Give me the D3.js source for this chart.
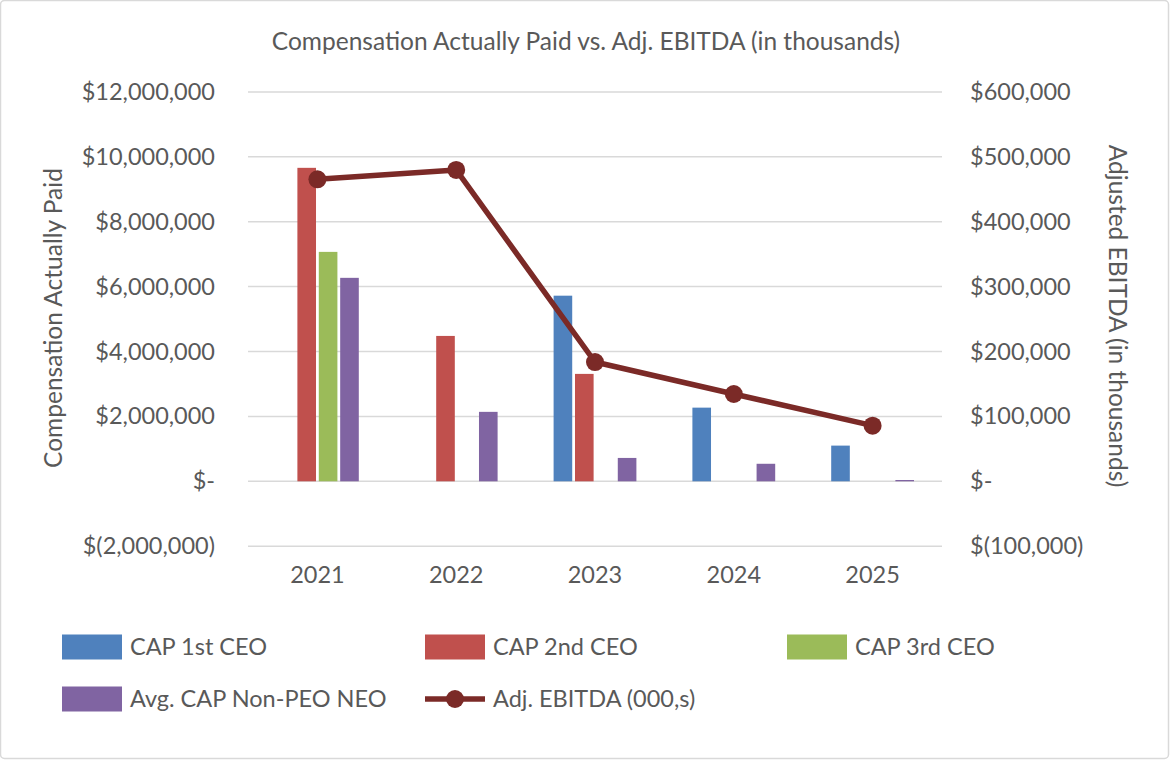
<!DOCTYPE html>
<html><head><meta charset="utf-8">
<script src="https://cdn.jsdelivr.net/npm/d3@7"></script>
<style>
html,body{margin:0;padding:0;background:#fff;}
svg text{font-family:Lato,"Open Sans",sans-serif;fill:#595959;}
</style></head>
<body><svg id="c" width="1170" height="760"></svg>
<script>
const years = ["2021","2022","2023","2024","2025"];
const seriesNames = ["CAP 1st CEO","CAP 2nd CEO","CAP 3rd CEO","Avg. CAP Non-PEO NEO"];
const seriesColors = ["#4F81BD","#C0504D","#9BBB59","#8064A2"];
const cap1st  = [null, null, 5720000, 2270000, 1100000];
const cap2nd  = [9660000, 4480000, 3310000, null, null];
const cap3rd  = [7070000, null, null, null, null];
const capNeo  = [6270000, 2140000, 720000, 540000, 40000];
const ebitda  = [465300, 479700, 183800, 134500, 85700];
const lineName = "Adj. EBITDA (000,s)";
const lineColor = "#7B2A27";
const leftTicks = [-2000000,0,2000000,4000000,6000000,8000000,10000000,12000000];
const rightTicks = [-100000,0,100000,200000,300000,400000,500000,600000];
const title = "Compensation Actually Paid vs. Adj. EBITDA (in thousands)";
const leftTitle = "Compensation Actually Paid";
const rightTitle = "Adjusted EBITDA (in thousands)";

const seriesValues = [cap1st, cap2nd, cap3rd, capNeo];

const svg = d3.select("#c");
svg.append("rect").attr("x",0.5).attr("y",0.5).attr("width",1168).attr("height",758)
  .attr("rx",4).attr("fill","#fff").attr("stroke","#d9d9d9").attr("stroke-width",1.5);

const plot = {left:248, right:942, top:91.9, bottom:546.2};
const x = d3.scaleBand().domain(years).range([plot.left, plot.right]).paddingInner(0).paddingOuter(0);
const groupW = 82.8;
const xs = d3.scaleBand().domain(seriesNames).range([-groupW/2, groupW/2]).paddingInner(0.13).paddingOuter(0);
const yL = d3.scaleLinear().domain([-2000000,12000000]).range([plot.bottom, plot.top]);
const yR = d3.scaleLinear().domain([-100000,600000]).range([plot.bottom, plot.top]);

const fmt = v => {
  if (v === 0) return "$-";
  const s = d3.format(",")(Math.abs(v));
  return v < 0 ? "$(" + s + ")" : "$" + s;
};

const tickFont = "23.5px";

// gridlines
svg.append("g").selectAll("line").data(leftTicks).join("line")
  .attr("x1",plot.left).attr("x2",plot.right)
  .attr("y1",d=>yL(d)).attr("y2",d=>yL(d))
  .attr("stroke","#d9d9d9").attr("stroke-width",1.5);

// left axis
const gl = svg.append("g").attr("transform",`translate(${plot.left},0)`)
  .call(d3.axisLeft(yL).tickValues(leftTicks).tickFormat(fmt).tickSize(0).tickPadding(33));
gl.select(".domain").remove();
gl.selectAll("text").style("font-size",tickFont).attr("fill","#595959");

// right axis
const gr = svg.append("g").attr("transform",`translate(${plot.right},0)`)
  .call(d3.axisRight(yR).tickValues(rightTicks).tickFormat(fmt).tickSize(0).tickPadding(28));
gr.select(".domain").remove();
gr.selectAll("text").style("font-size",tickFont).attr("fill","#595959");

// x axis labels
const gx = svg.append("g").attr("transform",`translate(0,${plot.bottom})`)
  .call(d3.axisBottom(x).tickSize(0).tickPadding(20));
gx.select(".domain").remove();
gx.selectAll("text").style("font-size",tickFont).attr("fill","#595959");

// bars
const barData = [];
seriesValues.forEach((arr,si)=>arr.forEach((v,i)=>{ if(v!=null) barData.push({year:years[i], s:seriesNames[si], si, v}); }));
svg.append("g").selectAll("rect").data(barData).join("rect")
  .attr("x",d=>x(d.year)+x.bandwidth()/2+xs(d.s))
  .attr("width",xs.bandwidth())
  .attr("y",d=>Math.min(yL(d.v),yL(0)))
  .attr("height",d=>Math.abs(yL(d.v)-yL(0)))
  .attr("fill",d=>seriesColors[d.si]);

// line
const cx = (d,i)=>x(years[i])+x.bandwidth()/2;
svg.append("path").datum(ebitda)
  .attr("d", d3.line().x((d,i)=>cx(d,i)).y(d=>yR(d)))
  .attr("fill","none").attr("stroke",lineColor).attr("stroke-width",5.5).attr("stroke-linejoin","round");
svg.append("g").selectAll("circle").data(ebitda).join("circle")
  .attr("cx",(d,i)=>cx(d,i)).attr("cy",d=>yR(d)).attr("r",9).attr("fill",lineColor);

// titles
svg.append("text").attr("x",586).attr("y",50).attr("text-anchor","middle")
  .style("font-size","24.5px").text(title);
svg.append("text").attr("transform","translate(62,318) rotate(-90)").attr("text-anchor","middle")
  .style("font-size","24.5px").text(leftTitle);
svg.append("text").attr("transform","translate(1109,316) rotate(90)").attr("text-anchor","middle")
  .style("font-size","24.5px").text(rightTitle);

// legend
const legendItems = seriesNames.map((n,i)=>({name:n, color:seriesColors[i], type:"rect"}))
  .concat([{name:lineName, color:lineColor, type:"line"}]);
const legPos = [[62,647],[425,647],[787,647],[62,699],[425,699]];
const lg = svg.append("g");
legendItems.forEach((it,i)=>{
  const [lx,ly] = legPos[i];
  const g = lg.append("g").attr("transform",`translate(${lx},${ly})`);
  if(it.type==="rect"){
    g.append("rect").attr("x",0).attr("y",-12.5).attr("width",60).attr("height",25).attr("fill",it.color);
  } else {
    g.append("line").attr("x1",0).attr("x2",60).attr("y1",0).attr("y2",0).attr("stroke",it.color).attr("stroke-width",5.5);
    g.append("circle").attr("cx",30).attr("cy",0).attr("r",9).attr("fill",it.color);
  }
  g.append("text").attr("x",68).attr("y",0).attr("dy","0.35em").style("font-size",tickFont).text(it.name);
});
</script></body></html>
